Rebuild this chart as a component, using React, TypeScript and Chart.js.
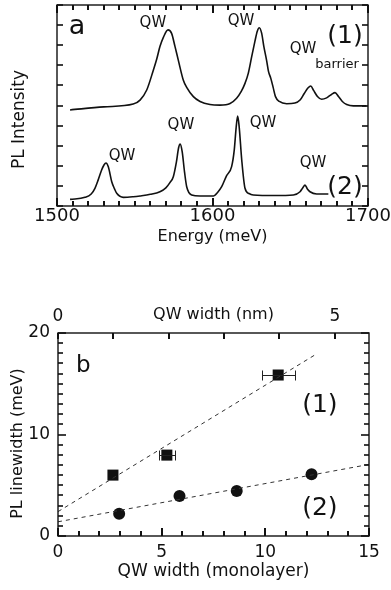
import React, { useEffect, useRef } from 'react';
import { Chart, registerables } from 'chart.js';

Chart.register(...registerables);

const FONT = '"DejaVu Sans", "Liberation Sans", Arial, sans-serif';
const INK = '#111';

// ---------- Panel a: PL spectra ----------
const energy1 = [1508.4, 1530, 1549, 1553.4, 1557.7, 1562, 1564.1, 1566.2, 1568.4, 1571.4, 1573.7, 1575.9, 1578, 1581.2, 1583.4, 1587.7, 1592, 1598.4, 1604.8, 1611.3, 1615.5, 1618.5, 1620.9, 1623, 1625.2, 1627.3, 1628.8, 1630.1, 1631.6, 1633.1, 1634.9, 1636, 1637.5, 1639, 1640.5, 1643, 1647.7, 1653, 1656.3, 1659, 1661.5, 1663.2, 1665, 1667.5, 1670.2, 1673.4, 1676.5, 1678.8, 1681, 1683.5, 1686.3, 1690.6, 1699];
const intensity1 = [4.78, 4.93, 5.07, 5.27, 5.77, 6.77, 7.3, 7.93, 8.39, 8.76, 8.59, 7.93, 7.26, 6.27, 5.9, 5.44, 5.2, 5.05, 5.02, 5.1, 5.36, 5.7, 6.1, 6.6, 7.43, 8.2, 8.7, 8.87, 8.6, 7.9, 7.2, 6.7, 6.35, 5.9, 5.44, 5.2, 5.09, 5.12, 5.27, 5.6, 5.88, 5.97, 5.75, 5.45, 5.31, 5.38, 5.55, 5.64, 5.45, 5.2, 5.05, 4.98, 4.98];
const energy2 = [1508.4, 1518, 1522, 1524.4, 1526.5, 1528.7, 1530.2, 1531.5, 1533, 1535.2, 1537, 1538.4, 1542.7, 1549, 1553.4, 1560, 1566.2, 1570, 1572.5, 1574.8, 1576.8, 1578.2, 1579.2, 1580.5, 1582, 1583.4, 1586.6, 1592, 1600.5, 1603.5, 1605.9, 1609, 1612.3, 1614, 1615.2, 1616.2, 1617.2, 1618.8, 1620.9, 1623.5, 1626.2, 1640, 1652, 1656.3, 1658, 1659.5, 1661, 1662.7, 1667, 1674.5];
const intensity2 = [0.33, 0.43, 0.6, 0.88, 1.3, 1.79, 2.04, 2.14, 1.95, 1.21, 0.85, 0.63, 0.43, 0.46, 0.5, 0.58, 0.71, 0.9, 1.15, 1.46, 2.2, 2.9, 3.08, 2.7, 1.7, 0.96, 0.55, 0.5, 0.5, 0.7, 0.96, 1.5, 1.96, 2.79, 3.9, 4.48, 3.9, 2.29, 0.88, 0.62, 0.55, 0.52, 0.55, 0.71, 0.9, 1.04, 0.85, 0.71, 0.6, 0.6];

const labelsA = [
  { text: 'a', x: 1512.9, y: 8.9, size: 27 },
  { text: 'QW', x: 1561.7, y: 9.1, size: 15 },
  { text: 'QW', x: 1618.3, y: 9.2, size: 15 },
  { text: 'QW', x: 1658.2, y: 7.81, size: 15 },
  { text: 'barrier', x: 1680.1, y: 7.01, size: 13 },
  { text: '(1)', x: 1685.2, y: 8.41, size: 25 },
  { text: 'QW', x: 1541.8, y: 2.49, size: 15 },
  { text: 'QW', x: 1579.7, y: 4.03, size: 15 },
  { text: 'QW', x: 1632.5, y: 4.13, size: 15 },
  { text: 'QW', x: 1664.6, y: 2.14, size: 15 },
  { text: '(2)', x: 1685.2, y: 0.9, size: 25 },
];

// ---------- Panel b: linewidth vs width ----------
const widthML1 = [2.65, 5.25, 10.62];
const linewidth1 = [6.0, 7.97, 15.86];
const widthErr1 = [0, 0.38, 0.8];
const widthML2 = [2.95, 5.86, 8.62, 12.23];
const linewidth2 = [2.2, 3.95, 4.44, 6.09];
const fit1X = [0, 12.4];
const fit1Y = [2.4, 17.85];
const fit2X = [0, 15];
const fit2Y = [1.4, 7.05];
const NM_PER_ML = 0.3745;

const labelsB = [
  { text: 'b', x: 1.22, y: 16.7, size: 23 },
  { text: '(1)', x: 12.63, y: 12.9, size: 25 },
  { text: '(2)', x: 12.63, y: 2.73, size: 25 },
];

const toXY = (xs: number[], ys: number[]) => xs.map((x, i) => ({ x, y: ys[i] }));

type TickSpec = { scale: string; step: number; major: number; minorLen: number; majorLen: number; edges: string[] };
type YTitle = { text: string; x: number; dy: number; size: number };

function makeFrame(id: string, specs: TickSpec[], yTitle: YTitle) {
  return {
    id,
    afterDraw(chart: any) {
      const ctx: CanvasRenderingContext2D = chart.ctx;
      const a = chart.chartArea;
      ctx.save();
      ctx.fillStyle = INK;
      for (const t of specs) {
        const s = chart.scales[t.scale];
        const lo = Number(s.min);
        const hi = Number(s.max);
        const n = Math.floor((hi - lo) / t.step + 1e-6);
        for (let i = 0; i <= n; i++) {
          const v = lo + i * t.step;
          const r = v / t.major;
          const isMajor = Math.abs(r - Math.round(r)) < 1e-6;
          const len = isMajor ? t.majorLen : t.minorLen;
          const p = Math.round(s.getPixelForValue(v));
          for (const edge of t.edges) {
            if (edge === 'bottom') ctx.fillRect(p - 1, a.bottom - len, 2, len);
            else if (edge === 'top') ctx.fillRect(p - 1, a.top, 2, len);
            else if (edge === 'left') ctx.fillRect(a.left, p - 0.8, len, 1.6);
            else if (edge === 'right') ctx.fillRect(a.right - len, p - 0.8, len, 1.6);
          }
        }
      }
      ctx.strokeStyle = INK;
      ctx.lineWidth = 1.4;
      ctx.strokeRect(a.left, a.top, a.right - a.left, a.bottom - a.top);
      ctx.font = `${yTitle.size}px ${FONT}`;
      ctx.textAlign = 'center';
      ctx.textBaseline = 'middle';
      ctx.translate(yTitle.x, (a.top + a.bottom) / 2 + yTitle.dy);
      ctx.rotate(-Math.PI / 2);
      ctx.fillText(yTitle.text, 0, 0);
      ctx.restore();
    },
  };
}

function makeLabels(id: string, labels: { text: string; x: number; y: number; size: number }[]) {
  return {
    id,
    afterDatasetsDraw(chart: any) {
      const { ctx } = chart;
      const xs = chart.scales.x;
      const ys = chart.scales.y;
      ctx.save();
      ctx.fillStyle = INK;
      ctx.textAlign = 'center';
      ctx.textBaseline = 'middle';
      for (const l of labels) {
        ctx.font = `${l.size}px ${FONT}`;
        ctx.fillText(l.text, xs.getPixelForValue(l.x), ys.getPixelForValue(l.y));
      }
      ctx.restore();
    },
  };
}

function makeErrorBars(id: string, xv: number[], yv: number[], err: number[]) {
  return {
    id,
    afterDatasetsDraw(chart: any) {
      const { ctx } = chart;
      const xs = chart.scales.x;
      const ys = chart.scales.y;
      ctx.save();
      ctx.strokeStyle = '#222';
      ctx.lineWidth = 1;
      xv.forEach((x, i) => {
        const e = err[i];
        if (!e) return;
        const y = Math.round(ys.getPixelForValue(yv[i])) + 0.5;
        const x0 = Math.round(xs.getPixelForValue(x - e)) + 0.5;
        const x1 = Math.round(xs.getPixelForValue(x + e)) + 0.5;
        ctx.beginPath();
        ctx.moveTo(x0, y); ctx.lineTo(x1, y);
        ctx.moveTo(x0, y - 5); ctx.lineTo(x0, y + 5);
        ctx.moveTo(x1, y - 5); ctx.lineTo(x1, y + 5);
        ctx.stroke();
      });
      ctx.restore();
    },
  };
}

const hiddenGrid = { display: false, drawTicks: false };

function PanelA() {
  const ref = useRef<HTMLCanvasElement>(null);
  useEffect(() => {
    const chart = new Chart(ref.current as HTMLCanvasElement, {
      type: 'scatter',
      data: {
        datasets: [
          { data: toXY(energy1, intensity1), showLine: true, borderColor: INK, borderWidth: 1.6, pointRadius: 0, cubicInterpolationMode: 'monotone' } as any,
          { data: toXY(energy2, intensity2), showLine: true, borderColor: INK, borderWidth: 1.6, pointRadius: 0, cubicInterpolationMode: 'monotone' } as any,
        ],
      },
      options: {
        animation: false,
        responsive: false,
        events: [],
        layout: { padding: { top: 5, right: 23, left: 0, bottom: 0 } },
        plugins: { legend: { display: false }, tooltip: { enabled: false } },
        scales: {
          x: {
            type: 'linear', position: 'bottom', min: 1500, max: 1700,
            grid: hiddenGrid, border: { display: false },
            ticks: { stepSize: 100, color: INK, font: { family: FONT, size: 18 }, padding: 0, maxRotation: 0, autoSkip: false, callback: (v: any) => String(v) },
            title: { display: true, text: 'Energy (meV)', color: INK, font: { family: FONT, size: 16 }, padding: { top: 0, bottom: 4 } },
            afterFit: (s: any) => { s.height = 44; },
          },
          y: {
            type: 'linear', min: 0, max: 10,
            grid: hiddenGrid, border: { display: false },
            ticks: { display: false },
            afterFit: (s: any) => { s.width = 57; },
          },
        },
      },
      plugins: [
        makeLabels('labelsA', labelsA),
        makeFrame('frameA', [
          { scale: 'x', step: 10, major: 100, minorLen: 5, majorLen: 8, edges: ['bottom', 'top'] },
          { scale: 'y', step: 1, major: 100, minorLen: 6, majorLen: 6, edges: ['left', 'right'] },
        ], { text: 'PL Intensity', x: 20, dy: 14, size: 17 }),
      ],
    } as any);
    return () => chart.destroy();
  }, []);
  return <canvas ref={ref} width={391} height={250} style={{ position: 'absolute', left: 0, top: 0, width: 391, height: 250 }} />;
}

function PanelB() {
  const ref = useRef<HTMLCanvasElement>(null);
  useEffect(() => {
    const chart = new Chart(ref.current as HTMLCanvasElement, {
      type: 'scatter',
      data: {
        datasets: [
          { data: toXY(fit1X, fit1Y), showLine: true, borderColor: '#333', borderWidth: 1, borderDash: [4, 4], pointRadius: 0 } as any,
          { data: toXY(fit2X, fit2Y), showLine: true, borderColor: '#333', borderWidth: 1, borderDash: [4, 4], pointRadius: 0 } as any,
          { data: toXY(widthML1, linewidth1), pointStyle: 'rect', pointRadius: 7.8, backgroundColor: INK, borderColor: INK, borderWidth: 0 } as any,
          { data: toXY(widthML2, linewidth2), pointStyle: 'circle', pointRadius: 6, backgroundColor: INK, borderColor: INK, borderWidth: 0 } as any,
        ],
      },
      options: {
        animation: false,
        responsive: false,
        events: [],
        layout: { padding: { top: 0, right: 22, left: 0, bottom: 0 } },
        plugins: { legend: { display: false }, tooltip: { enabled: false } },
        scales: {
          x: {
            type: 'linear', position: 'bottom', min: 0, max: 15,
            grid: hiddenGrid, border: { display: false },
            ticks: { stepSize: 5, color: INK, font: { family: FONT, size: 17 }, padding: 6, maxRotation: 0, autoSkip: false, callback: (v: any) => String(v) },
            title: { display: true, text: 'QW width (monolayer)', color: INK, font: { family: FONT, size: 17 }, padding: { top: 0, bottom: 8 } },
            afterFit: (s: any) => { s.height = 54; },
          },
          x2: {
            type: 'linear', position: 'top', min: 0, max: 15 * NM_PER_ML,
            grid: hiddenGrid, border: { display: false },
            ticks: { stepSize: 5, includeBounds: false, color: INK, font: { family: FONT, size: 17 }, padding: 6, maxRotation: 0, autoSkip: false, callback: (v: any) => String(v) },
            title: { display: true, text: 'QW width (nm)', color: INK, font: { family: FONT, size: 16 }, padding: { top: 25, bottom: 0 } },
            afterFit: (s: any) => { s.height = 53; },
          },
          y: {
            type: 'linear', min: 0, max: 20,
            grid: hiddenGrid, border: { display: false },
            ticks: { stepSize: 10, color: INK, font: { family: FONT, size: 17 }, padding: 8, callback: (v: any) => String(v) },
            afterFit: (s: any) => { s.width = 58; },
          },
        },
      },
      plugins: [
        makeErrorBars('errB', widthML1, linewidth1, widthErr1),
        makeLabels('labelsB', labelsB),
        makeFrame('frameB', [
          { scale: 'x', step: 1, major: 5, minorLen: 5, majorLen: 8, edges: ['bottom'] },
          { scale: 'x2', step: 1, major: 100, minorLen: 6, majorLen: 6, edges: ['top'] },
          { scale: 'y', step: 1, major: 10, minorLen: 5, majorLen: 8, edges: ['left', 'right'] },
        ], { text: 'PL linewidth (meV)', x: 18, dy: 9, size: 16 }),
      ],
    } as any);
    return () => chart.destroy();
  }, []);
  return <canvas ref={ref} width={391} height={310} style={{ position: 'absolute', left: 0, top: 280, width: 391, height: 310 }} />;
}

export default function App() {
  return (
    <div style={{ position: 'absolute', left: 0, top: 0, width: 391, height: 590, background: '#fff' }}>
      <PanelA />
      <PanelB />
    </div>
  );
}
